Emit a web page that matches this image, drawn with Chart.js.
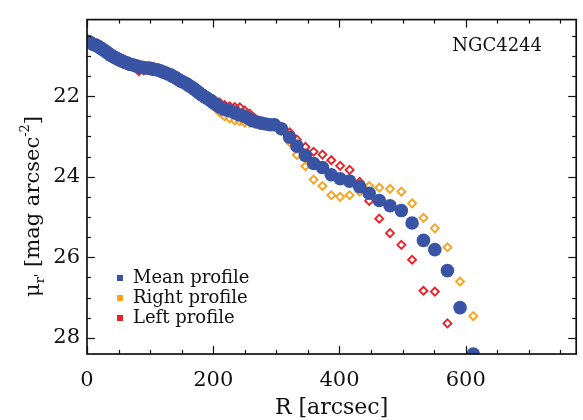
<!DOCTYPE html>
<html>
<head>
<meta charset="utf-8">
<script src="https://cdn.jsdelivr.net/npm/chart.js@4.4.0/dist/chart.umd.min.js"></script>
<style>
  html, body { margin: 0; padding: 0; background: #fff; }
</style>
</head>
<body>
<canvas id="wykres" width="583" height="420"></canvas>
<script>
// promien [arcsec] i jasnosc powierzchniowa [mag arcsec^-2]
const radiusMean = [1, 3, 5, 8, 11, 14, 17, 20, 23, 26, 29, 32, 35, 38, 41, 44, 47, 50, 53, 56,
  60, 64, 68, 72, 76, 80, 84, 88, 92, 96, 100, 104, 108, 112, 116, 120, 124, 128, 132, 136,
  140, 144, 148, 152, 156, 160, 164, 168, 172, 176, 180, 184, 188, 192, 196, 200, 205, 210, 216, 222,
  228, 234, 241, 248, 255, 262, 269, 276, 283, 290, 297, 308, 321, 332.5, 346, 359, 373, 387, 401, 416,
  432, 447, 463, 480, 498, 515, 533, 551, 571, 591, 612];
const muMean = [20.64, 20.65, 20.67, 20.70, 20.72, 20.73, 20.76, 20.79, 20.82, 20.85, 20.88, 20.92, 20.95, 20.99, 21.01, 21.04, 21.06, 21.09, 21.11, 21.13,
  21.16, 21.18, 21.21, 21.22, 21.24, 21.26, 21.28, 21.29, 21.30, 21.30, 21.31, 21.33, 21.34, 21.35, 21.37, 21.40, 21.42, 21.45, 21.47, 21.51,
  21.54, 21.58, 21.62, 21.65, 21.68, 21.72, 21.76, 21.80, 21.85, 21.90, 21.95, 21.99, 22.03, 22.07, 22.11, 22.16, 22.21, 22.27, 22.32, 22.35,
  22.37, 22.41, 22.46, 22.49, 22.55, 22.61, 22.64, 22.67, 22.69, 22.71, 22.71, 22.81, 23.02, 23.24, 23.47, 23.67, 23.77, 23.95, 24.05, 24.11,
  24.25, 24.41, 24.59, 24.72, 24.84, 25.15, 25.58, 25.81, 26.33, 27.25, 28.40];

const radiusRight = [2, 10, 18, 26, 34, 42, 50, 58, 66, 74, 82, 90, 98, 106, 114, 122, 130, 138, 146, 154,
  162, 170, 178, 186, 194, 202, 210, 218, 226, 234, 242, 250, 258, 266, 274, 282, 290, 298, 308, 321,
  332.5, 346, 359, 373, 387, 401, 416, 432, 447, 463, 480, 498, 515, 533, 551, 571, 591, 612];
const muRight = [20.66, 20.72, 20.78, 20.86, 20.93, 20.99, 21.06, 21.12, 21.16, 21.20, 21.22, 21.24, 21.25, 21.27, 21.31, 21.36, 21.41, 21.46, 21.53, 21.60,
  21.67, 21.77, 21.90, 22.02, 22.13, 22.27, 22.40, 22.50, 22.55, 22.60, 22.62, 22.66, 22.66, 22.68, 22.70, 22.72, 22.74, 22.76, 22.86, 23.14,
  23.46, 23.74, 24.07, 24.23, 24.46, 24.50, 24.46, 24.37, 24.23, 24.27, 24.30, 24.37, 24.66, 25.02, 25.28, 25.75, 26.60, 27.46];

const radiusLeft = [2, 10, 18, 26, 34, 42, 50, 58, 66, 74, 82, 90, 98, 106, 114, 122, 130, 138, 146, 154,
  162, 170, 178, 186, 194, 202, 210, 218, 226, 234, 242, 250, 258, 266, 274, 282, 290, 298, 308, 321,
  332.5, 346, 359, 373, 387, 401, 416, 432, 447, 463, 480, 498, 515, 533, 551, 571];
const muLeft = [20.64, 20.70, 20.77, 20.85, 20.95, 21.08, 21.15, 21.20, 21.24, 21.28, 21.38, 21.36, 21.34, 21.37, 21.40, 21.44, 21.48, 21.55, 21.64, 21.72,
  21.79, 21.86, 21.96, 22.06, 22.12, 22.10, 22.16, 22.22, 22.25, 22.27, 22.28, 22.36, 22.44, 22.55, 22.63, 22.66, 22.68, 22.70, 22.78, 22.90,
  23.08, 23.26, 23.38, 23.45, 23.59, 23.73, 23.83, 24.13, 24.60, 25.04, 25.40, 25.69, 26.06, 26.83, 26.85, 27.64];

const xTickVals = [0, 200, 400, 600];
const yTickVals = [22, 24, 26, 28];
const seriesLabels = ['Mean profile', 'Right profile', 'Left profile'];
const galaxyName = 'NGC4244';

const kolory = ['#3a54a5', '#f9a31c', '#e8232a'];
const fontSerif = '"DejaVu Serif", "Liberation Serif", serif';

function punkty(rr, mm) {
  return rr.map((r, i) => ({ x: r, y: mm[i] }));
}

function linia(ctx, x1, y1, x2, y2) {
  ctx.beginPath();
  ctx.moveTo(x1, y1);
  ctx.lineTo(x2, y2);
  ctx.stroke();
}

// ramka z podzialka do srodka na wszystkich bokach + opisy
const ramka = {
  id: 'ramka',
  afterDraw(chart) {
    const ctx = chart.ctx;
    const a = chart.chartArea;
    const sx = chart.scales.x;
    const sy = chart.scales.y;
    ctx.save();
    ctx.strokeStyle = '#111';
    ctx.lineWidth = 1.2;
    for (let v = 0; v <= sx.max; v += 50) {
      const px = Math.round(sx.getPixelForValue(v)) + 0.5;
      const len = v % 200 === 0 ? 8 : 4;
      linia(ctx, px, a.bottom, px, a.bottom - len);
      linia(ctx, px, a.top, px, a.top + len);
    }
    for (let i = Math.ceil(sy.min * 2); i <= sy.max * 2; i++) {
      const v = i / 2;
      const py = Math.round(sy.getPixelForValue(v)) + 0.5;
      const len = i % 4 === 0 ? 8 : 4;
      linia(ctx, a.left, py, a.left + len, py);
      linia(ctx, a.right, py, a.right - len, py);
    }
    ctx.lineWidth = 1.7;
    ctx.strokeRect(a.left, a.top, a.right - a.left, a.bottom - a.top);

    ctx.fillStyle = '#111';
    // opis osi X
    ctx.font = '22px ' + fontSerif;
    ctx.textAlign = 'center';
    ctx.textBaseline = 'alphabetic';
    ctx.fillText('R [arcsec]', (a.left + a.right) / 2, 414);

    // opis osi Y z indeksami
    ctx.save();
    ctx.translate(39, 297);
    ctx.rotate(-Math.PI / 2);
    ctx.textAlign = 'left';
    let x = 0;
    ctx.font = '21px ' + fontSerif;
    ctx.fillText('μ', x, 0);
    x += ctx.measureText('μ').width;
    ctx.font = '13px ' + fontSerif;
    ctx.fillText("r'", x, 5);
    x += ctx.measureText("r'").width;
    ctx.font = '21px ' + fontSerif;
    ctx.fillText(' [mag arcsec', x, 0);
    x += ctx.measureText(' [mag arcsec').width;
    ctx.font = '13px ' + fontSerif;
    ctx.fillText('-2', x, -10);
    x += ctx.measureText('-2').width;
    ctx.font = '21px ' + fontSerif;
    ctx.fillText(']', x, 0);
    ctx.restore();

    // nazwa galaktyki
    ctx.font = '18px ' + fontSerif;
    ctx.textAlign = 'right';
    ctx.fillText(galaxyName, 542, 51);

    // legenda
    ctx.textAlign = 'left';
    seriesLabels.forEach((lab, i) => {
      const yb = 283 + i * 20;
      ctx.fillStyle = kolory[i];
      ctx.fillRect(117, yb - 8, 6, 6);
      ctx.fillStyle = '#111';
      ctx.fillText(lab, 133, yb);
    });
    ctx.restore();
  }
};

const ctx = document.getElementById('wykres').getContext('2d');
new Chart(ctx, {
  type: 'scatter',
  data: {
    datasets: [
      {
        label: seriesLabels[0],
        data: punkty(radiusMean, muMean),
        backgroundColor: kolory[0],
        borderColor: kolory[0],
        borderWidth: 0,
        pointRadius: 6.8
      },
      {
        label: seriesLabels[1],
        data: punkty(radiusRight, muRight),
        pointStyle: 'rectRot',
        backgroundColor: 'rgba(255,255,255,0)',
        borderColor: kolory[1],
        borderWidth: 1.9,
        pointRadius: 4
      },
      {
        label: seriesLabels[2],
        data: punkty(radiusLeft, muLeft),
        pointStyle: 'rectRot',
        backgroundColor: 'rgba(255,255,255,0)',
        borderColor: kolory[2],
        borderWidth: 1.9,
        pointRadius: 4
      }
    ]
  },
  options: {
    responsive: false,
    animation: false,
    events: [],
    layout: { padding: { left: 0, top: 6, right: 6, bottom: 0 } },
    plugins: {
      legend: { display: false },
      tooltip: { enabled: false }
    },
    scales: {
      x: {
        type: 'linear',
        min: 0,
        max: 775,
        afterBuildTicks: s => { s.ticks = xTickVals.map(v => ({ value: v })); },
        afterFit: s => { s.height = 66; },
        grid: { display: false, drawTicks: false },
        border: { display: false },
        ticks: {
          font: { family: fontSerif, size: 21 },
          color: '#111',
          padding: 14,
          maxRotation: 0
        }
      },
      y: {
        type: 'linear',
        reverse: true,
        min: 20.1,
        max: 28.4,
        afterBuildTicks: s => { s.ticks = yTickVals.map(v => ({ value: v })); },
        afterFit: s => { s.width = 87; },
        grid: { display: false, drawTicks: false },
        border: { display: false },
        ticks: {
          font: { family: fontSerif, size: 21 },
          color: '#111',
          padding: 7
        }
      }
    }
  },
  plugins: [ramka]
});
</script>
</body>
</html>
